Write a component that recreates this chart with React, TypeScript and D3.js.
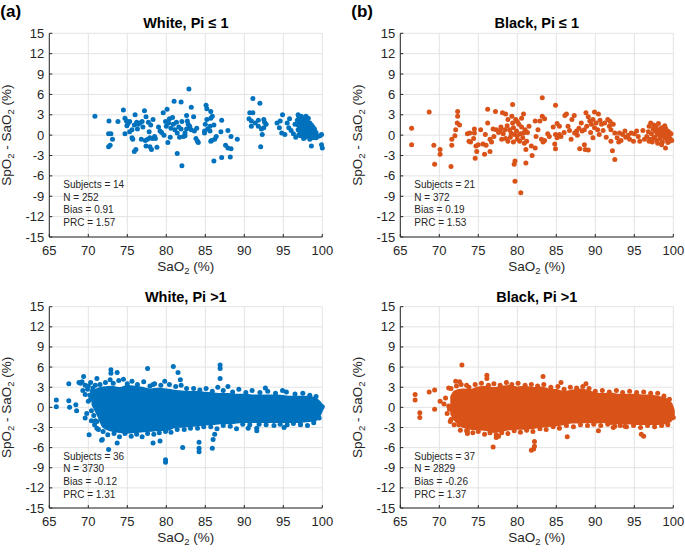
import React from "react";
import * as d3 from "d3";

const xTicks = [65, 70, 75, 80, 85, 90, 95, 100];
const yTicks = [-15, -12, -9, -6, -3, 0, 3, 6, 9, 12, 15];

const BLUE = "#0072BD";
const ORANGE = "#D95319";

const titles = ["White, Pi \u2264 1", "Black, Pi \u2264 1", "White, Pi >1", "Black, Pi >1"];
const subjects = [14, 21, 36, 37];
const counts = [252, 372, 3730, 2829];
const biases = ["0.91", "0.19", "-0.12", "-0.26"];
const prcs = ["1.57", "1.53", "1.31", "1.37"];

const whiteLow: [number, number][] = [
  [70.85, 2.8], [72.65, 2.1], [72.6, 0.2], [72.9, 0.2], [73.1, -0.6], [72.6, -1.7], [72.8, -1.5], [73.8, 2.0], [74.5, 3.7], [74.7, 2.5],
  [74.9, 2.1], [75.1, 1.7], [74.7, 0.2], [74.95, 1.4], [75.3, 2.0], [76.0, 3.0], [76.2, 1.9], [75.9, 1.5], [76.4, 1.6], [76.6, 1.8],
  [75.6, 0.8], [75.6, -0.4], [75.7, -0.6], [76.1, -2.1], [75.9, -2.4], [77.2, 3.6], [77.4, 2.7], [76.9, 2.0], [77.7, 1.9], [78.3, 2.3],
  [77.8, 0.5], [76.8, -0.6], [77.3, -0.8], [77.6, -0.6], [77.9, -0.4], [78.2, -0.5], [78.5, -0.2], [78.6, -0.5], [77.4, -1.6], [77.9, -1.7],
  [78.1, -2.1], [78.8, -1.8], [79.4, 0.4], [79.6, 3.3], [80.1, 3.8], [80.3, 1.8], [80.0, 1.3], [79.7, 0.0], [80.2, -1.1], [80.8, 2.6],
  [81.0, 5.0], [81.9, 4.9], [80.9, 1.6], [81.1, 0.8], [81.4, -2.7], [82.0, -4.5], [81.4, 0.3], [81.7, -0.3], [82.2, -0.2],
  [79.0, 1.2], [79.2, 0.6], [79.9, 2.0], [80.4, 2.4], [80.6, 1.0], [81.3, 1.9], [81.6, 1.2], [82.0, 2.0], [81.9, 0.9], [76.3, 0.9],
  [75.3, 0.5], [77.0, 1.2], [78.0, 1.5], [80.5, -0.3],
  [82.9, 6.8], [83.2, 4.1], [82.6, 2.9], [82.7, 2.1], [82.8, 1.6], [82.6, 0.9], [83.0, 1.3], [82.4, 0.3], [83.2, 0.8], [83.5, 2.7],
  [83.9, 1.0], [83.8, -0.5], [84.0, -0.9], [84.1, -1.1], [83.6, 0.6], [82.4, -0.1], [85.1, 4.4], [85.2, 3.9], [85.7, 3.5], [85.9, 2.8],
  [85.7, 2.5], [85.2, 2.3], [85.0, 1.6], [85.3, 0.9], [85.6, 0.6], [84.9, 0.6], [85.6, 1.3], [86.1, 1.5], [84.9, 0.3], [87.1, 2.2],
  [87.0, 0.5], [86.4, -0.2], [86.2, -0.6], [85.8, -0.8], [85.7, -0.9], [87.9, 0.7], [88.3, -0.2], [89.1, -0.6], [87.6, -1.5], [87.9, -1.9],
  [88.3, -2.0], [88.2, -3.2], [87.1, -3.3], [86.1, -3.8],
  [91.1, 5.4], [92.0, 4.7], [90.7, 3.3], [91.1, 3.3], [90.6, 2.4], [90.9, 2.1], [91.4, 1.8], [91.8, 2.2], [92.5, 2.3], [92.8, 1.6],
  [92.5, 1.1], [92.2, 0.9], [91.8, 1.3], [90.9, 1.3], [92.3, 0.1], [92.1, -1.7], [92.6, 1.9],
  [94.2, 1.8], [94.6, 2.1], [94.9, 3.0], [94.5, 1.1], [94.8, 0.3], [95.2, 0.1], [95.5, 1.8], [95.8, 2.4], [95.7, 1.1], [96.0, 0.7],
  [96.5, 1.6], [96.9, 3.0], [97.3, 2.8],
  [96.8, 2.2], [96.9, 1.5], [96.9, 0.8], [97.0, 2.6], [97.1, 1.9], [97.1, 1.2], [97.2, 0.5], [97.2, -0.1], [97.3, 2.2], [97.4, 1.6],
  [97.4, 0.9], [97.5, 0.2], [97.5, 2.5], [97.6, 1.3], [97.7, 1.9], [97.7, 0.6], [97.8, -0.3], [97.8, 2.3], [97.9, 1.1], [98.0, 1.7],
  [98.0, 0.3], [98.1, 2.0], [98.1, 0.9], [98.2, 1.4], [98.3, -0.2], [98.3, 0.6], [98.4, 1.8], [98.5, 1.1], [98.5, 0.2], [98.6, 1.5],
  [98.7, 0.7], [98.8, 1.2], [98.8, -0.4], [98.9, 0.3], [99.0, 0.9], [99.2, 0.4], [97.0, 0.1], [96.6, -0.3], [96.3, 0.2], [97.6, -0.5],
  [98.2, 2.5], [97.9, 2.8], [98.4, -0.6], [99.4, -0.2],
  [98.6, -1.6], [99.7, -0.1], [99.9, 0.1], [100, -1.9], [99.9, -1.4], [99.0, -0.1], [99.2, -0.4],
];

const blackLow: [number, number][] = [
  [66.45, 1.0], [66.45, -1.4], [68.7, 3.4], [69.3, -1.5], [69.4, -4.3], [70.1, -2.1], [70.1, -2.8], [71.5, -4.6], [71.6, -1.5], [71.6, -0.6],
  [72.0, -0.1], [72.1, 0.8], [72.35, 3.5], [72.35, 2.8], [72.3, 1.8], [72.6, 1.5], [73.6, 0.2], [73.9, 0.3], [73.8, -0.9], [74.0, -1.0],
  [74.5, 0.9], [74.5, 0.3], [74.4, -0.5], [74.7, -1.6], [74.6, -3.4], [74.8, -2.4], [75.0, -1.4], [75.3, 0.8], [75.6, -1.3], [75.8, -2.8],
  [76.2, 3.8], [76.2, 1.8], [76.0, -1.5], [76.5, -0.6], [76.7, -1.0], [76.5, -2.4], [77.2, 3.5], [77.3, 0.8], [77.6, 0.4], [77.8, 0.7],
  [78.0, -0.6], [78.1, 3.3], [78.4, 0.8], [78.5, 3.1], [78.5, -0.5], [78.8, 2.3], [79.0, 0.8], [79.2, 0.3], [79.3, 2.8], [79.4, 4.5],
  [79.4, 1.8], [79.5, 1.1], [79.6, 0.1], [79.7, -3.8], [79.6, -4.3], [79.8, 2.3], [80.0, -0.1], [80.0, -0.6], [80.0, 2.0], [80.3, -0.9],
  [80.2, 1.6], [80.55, 1.2], [80.8, 3.1], [80.55, 2.5], [80.8, 0.3], [81.0, 0.8], [81.1, -2.1], [81.2, -0.9], [81.1, -4.1], [79.7, -6.8],
  [80.45, -8.5], [82.3, 2.1], [82.4, -0.2], [81.8, -1.6], [81.9, -3.0], [82.3, -1.9],
  [77.9, 1.2], [78.2, 0.2], [78.7, 1.4], [79.1, -0.3], [79.9, 0.6], [80.4, 0.2], [80.7, -0.4], [81.3, 0.4], [81.5, 1.3], [79.5, -1.0],
  [80.9, -1.2], [78.8, -0.9], [77.0, -0.2], [76.9, 0.9], [75.9, 0.1],
  [83.2, 5.5], [84.9, 4.4], [82.9, 2.1], [83.2, 2.8], [83.5, 2.4], [82.65, 0.8], [83.1, -0.6], [83.3, -1.0], [83.5, -0.8], [83.9, 0.2],
  [84.1, -0.2], [84.6, 1.2], [85.1, 1.7], [85.4, 1.3], [84.9, 0.1], [85.1, -0.4], [84.8, -1.3], [84.9, -2.0], [85.4, 0.1], [85.6, -0.2],
  [86.1, 2.9], [86.3, 3.1], [86.5, 1.3], [86.7, 0.7], [87.0, 2.3], [87.3, 2.9], [87.35, 0.3], [87.6, 0.6], [87.7, 0.0], [88.0, -2.0],
  [88.6, -1.4], [88.7, -2.1], [89.1, -2.2], [88.3, 0.6], [88.6, 0.8], [88.8, 3.3], [89.1, 2.7], [89.3, 2.1], [89.5, 1.6], [88.9, 1.3],
  [89.9, 3.4], [89.7, 2.3], [90.1, 1.8], [89.9, 1.1], [90.3, 0.8], [90.6, 2.2], [90.8, 1.6], [91.0, 0.7], [91.2, 1.8], [91.6, 2.3],
  [91.8, 1.3], [92.0, 0.8], [92.2, -2.3], [92.5, -3.6], [92.5, 0.3], [92.8, -0.4], [93.1, 0.3], [93.3, -0.8], [93.5, 0.1], [93.8, 0.6],
  [94.2, 0.0], [94.6, 0.3], [94.9, -0.9], [95.3, 0.6], [95.7, -0.9], [96.1, 0.7], [96.3, -0.6],
  [86.0, 0.4], [86.9, -0.6], [87.9, 1.0], [88.2, 1.8], [89.4, 0.4], [89.7, -0.4], [90.5, 0.1], [91.4, -0.3], [90.4, 3.1], [91.9, 2.0],
  [92.3, 1.6], [93.0, -1.0], [93.9, -0.3], [94.4, -0.6], [95.0, 0.2], [95.5, -0.2], [92.0, -0.9],
  [96.6, -0.2], [96.8, 0.5], [96.9, 1.3], [97.0, -0.6], [97.1, 1.8], [97.2, 0.2], [97.3, -1.0], [97.4, 0.9], [97.5, 1.5], [97.6, -0.3],
  [97.7, 0.6], [97.8, 1.2], [97.9, -0.8], [98.0, 0.1], [98.1, 1.7], [98.2, 0.8], [98.3, -0.5], [98.4, 0.4], [98.5, 1.1], [98.6, -1.0],
  [98.7, 0.0], [98.8, 0.7], [98.9, -0.4], [99.0, 1.0], [99.1, 0.3], [99.2, -0.7], [99.3, 0.6], [99.4, -0.1], [99.5, 0.4], [99.6, -0.5],
  [99.7, 0.2], [99.8, -0.8], [99.3, -1.1], [98.9, 1.4], [97.4, -0.5], [97.9, 0.4], [98.4, -0.1], [99.0, -1.9], [98.0, -1.2], [96.9, -0.9],
  [98.5, -1.4], [99.2, -0.2], [99.5, -0.9],
];

// Dense core of the Pi > 1 scatters: outer envelope
const whiteHighEnvX = [70.6, 71.3, 72, 73, 74, 75, 76, 77, 78, 79, 80, 81, 82, 83, 84, 85, 86, 87, 88, 89, 90, 91, 92, 93, 94, 95, 96, 97, 98, 99, 99.6, 100];
const whiteHighEnvHi = [2.2, 2.7, 2.9, 3.0, 2.8, 3.1, 3.0, 2.8, 2.6, 2.7, 2.6, 2.4, 2.3, 2.2, 2.2, 2.1, 2.0, 1.9, 1.9, 1.8, 1.8, 1.7, 1.7, 1.7, 1.7, 1.6, 1.5, 1.5, 1.5, 1.3, 0.8, 0.2];
const whiteHighEnvLo = [0.4, -1.2, -2.9, -3.4, -3.6, -3.7, -3.6, -3.5, -3.4, -3.3, -3.3, -2.9, -2.8, -2.7, -2.6, -2.5, -2.4, -2.3, -2.3, -2.2, -2.1, -2.1, -2.1, -2.1, -2.1, -2.1, -2.1, -2.1, -2.0, -1.9, -1.2, -0.2];

const blackHighEnvX = [71.6, 72, 73, 74, 75, 76, 77, 78, 79, 80, 81, 82, 83, 84, 85, 86, 87, 88, 89, 90, 91, 92, 93, 94, 95, 96, 97, 98, 99, 99.7, 100];
const blackHighEnvHi = [1.6, 2.3, 2.6, 2.5, 2.9, 3.0, 2.8, 3.0, 3.1, 2.9, 3.0, 2.8, 2.9, 2.6, 2.5, 2.2, 2.4, 2.6, 2.4, 2.0, 1.9, 2.0, 1.8, 1.8, 1.8, 1.7, 1.7, 1.5, 1.2, 0.5, -0.5];
const blackHighEnvLo = [-1.0, -1.8, -2.8, -3.1, -3.2, -3.3, -3.6, -3.4, -3.2, -3.1, -3.1, -3.0, -2.8, -2.7, -2.6, -2.4, -2.2, -2.2, -2.1, -2.2, -2.1, -2.4, -2.3, -2.3, -2.4, -2.4, -2.4, -2.4, -2.3, -1.9, -1.2];

const whiteHighPts: [number, number][] = [
  [65.9, 1.1], [65.9, 0.1], [67.5, 3.5], [67.5, 1.0], [67.6, 0.0], [68.4, 0.4], [68.5, -0.5], [68.8, 3.7], [69.4, 4.6], [69.3, 2.5],
  [69.6, -1.6], [70.1, -4.1], [71.1, 4.3], [71.1, -2.1], [71.1, -3.1], [71.8, -4.8], [72.6, -6.3], [72.9, 5.6], [72.9, 5.1], [73.7, 5.2],
  [73.7, -5.3], [77.6, 5.8], [78.3, 3.4], [78.3, -5.3], [79.2, -5.0], [79.9, -7.8], [79.9, -8.2], [80.9, 6.1], [81.5, 5.2], [81.8, 4.1],
  [82.1, -6.0], [84.2, -5.2], [84.2, -6.1], [84.2, -6.6], [85.9, -6.1], [86.0, -4.8], [86.2, -4.0], [86.9, 6.3], [86.9, 5.8], [86.9, 4.3],
  [87.9, 3.1], [90.5, -3.1], [91.6, -3.1], [91.6, -3.5], [92.7, 2.9], [94.9, 2.5], [95.1, -3.0], [97.2, -2.6], [71.7, -4.9],
  [69.9, 2.7], [70.2, 1.8], [70.5, 2.4], [70.0, 0.9], [70.4, -0.5], [69.8, -0.9], [70.7, -1.2], [70.3, 1.2], [69.6, 1.9], [70.9, -2.0],
  [69.2, 3.8], [70.0, 3.2], [70.6, 2.9], [71.0, 1.6],
  [69.0, 3.6], [69.6, 3.3], [70.3, 3.7], [70.9, 3.3], [71.5, 3.4], [72.2, 3.7], [72.8, 4.1], [73.2, 3.6], [73.9, 4.0], [74.5, 4.2],
  [75.0, 3.5], [75.6, 3.9], [76.3, 3.4], [77.1, 3.8], [77.9, 3.2], [78.5, 3.5], [79.3, 3.3], [79.8, 3.9], [80.4, 3.4], [81.2, 3.1],
  [81.9, 3.3], [82.6, 2.8], [83.5, 2.8], [84.3, 2.6], [85.1, 2.8], [85.9, 2.4], [86.6, 3.0], [87.3, 2.5], [88.5, 2.3], [89.3, 2.7],
  [90.2, 2.2], [91.0, 2.5], [92.0, 2.2], [93.0, 2.4], [94.0, 2.1], [95.4, 2.3], [96.5, 2.0], [97.5, 2.1], [98.4, 1.8], [99.2, 1.6],
  [70.4, -2.0], [70.8, -2.6], [71.3, -3.3], [71.9, -3.6], [72.5, -4.1], [73.3, -3.9], [74.0, -4.4], [74.7, -3.9], [75.5, -4.3], [76.2, -4.0],
  [76.9, -4.4], [77.6, -3.9], [78.4, -4.0], [79.1, -3.8], [79.9, -3.6], [80.6, -3.7], [81.4, -3.3], [82.3, -3.3], [83.1, -3.1], [84.0, -3.1],
  [84.8, -2.9], [85.7, -2.9], [86.5, -3.2], [87.3, -2.7], [88.2, -2.8], [89.0, -3.2], [89.8, -2.5], [90.7, -2.6], [91.9, -2.5], [92.8, -2.6],
  [93.8, -2.7], [94.6, -2.5], [95.5, -2.6], [96.3, -2.4], [97.2, -2.5], [98.1, -2.7], [98.9, -2.3], [99.6, -1.6], [100, 0.1],
];

const blackHighPts: [number, number][] = [
  [66.9, 1.9], [66.9, 1.1], [67.5, -0.8], [67.5, -1.5], [68.7, 2.3], [69.4, 2.6], [69.4, -0.3], [70.1, 0.9], [71.2, 2.9], [71.3, -0.3],
  [71.4, -2.1], [72.1, 3.9], [72.6, 3.8], [72.9, 6.3], [72.5, -2.6], [73.5, 3.3], [73.6, -3.5], [73.6, -3.9], [76.1, 4.8], [76.1, 4.3],
  [76.9, -5.9], [77.3, -4.5], [77.6, -4.3], [81.8, -6.4], [82.1, -6.2], [82.2, -5.8], [82.2, -5.1], [83.3, 4.6], [85.6, 3.7], [86.4, -4.4],
  [88.8, 3.5], [90.4, -3.5], [95.9, -4.0], [96.2, -4.3], [92.5, -2.8], [93.8, -2.8], [70.6, 0.5], [71.0, -0.9], [70.8, 1.4], [71.5, -1.8],
  [71.2, 0.2],
  [71.5, 2.8], [72.2, 3.2], [72.8, 3.4], [73.8, 3.0], [74.6, 3.4], [75.4, 3.6], [76.3, 3.3], [77.0, 3.5], [77.8, 3.3], [78.6, 3.7],
  [79.3, 3.4], [80.1, 3.6], [81.0, 3.3], [81.8, 3.4], [82.6, 3.2], [83.4, 3.4], [84.3, 3.0], [85.2, 3.1], [86.0, 2.7], [86.8, 3.0],
  [87.6, 2.9], [88.4, 3.1], [89.2, 2.8], [90.0, 2.4], [90.9, 2.5], [91.8, 2.3], [92.7, 2.5], [93.5, 2.2], [94.4, 2.4], [95.3, 2.2],
  [96.2, 2.3], [97.1, 2.1], [98.0, 2.1], [98.8, 1.7], [99.5, 1.2],
  [71.9, -2.6], [72.7, -3.4], [73.5, -3.5], [74.3, -3.8], [75.0, -3.6], [75.8, -4.0], [76.5, -3.8], [77.3, -4.1], [78.0, -3.8], [78.8, -3.9],
  [79.6, -3.5], [80.4, -3.7], [81.2, -3.4], [82.0, -3.6], [82.9, -3.2], [83.7, -3.3], [84.6, -2.9], [85.4, -3.1], [86.3, -2.7], [87.2, -2.9],
  [88.1, -2.6], [89.0, -2.7], [89.8, -2.5], [90.7, -2.7], [91.6, -2.5], [92.3, -3.0], [93.2, -2.7], [94.0, -2.9], [94.9, -2.7], [95.8, -3.0],
  [96.7, -2.7], [97.6, -2.9], [98.5, -2.7], [99.3, -2.6], [100, -1.5],
];

const FONT = "'Liberation Sans', Arial, Helvetica, sans-serif";
const AX = "#262626";
const GRID = "#e3e3e3";

type Env = { x: number[]; hi: number[]; lo: number[] } | null;

function Panel(props: {
  left: number; right: number; top: number; bottom: number;
  pts: [number, number][]; env: Env; color: string; idx: number; tag?: string;
}) {
  const { left, right, top, bottom, pts, env, color, idx, tag } = props;
  const x = d3.scaleLinear().domain([65, 100]).range([left, right]);
  const y = d3.scaleLinear().domain([-15, 15]).range([bottom, top]);
  let envPath: string | null = null;
  if (env) {
    const rows = env.x.map((v, i) => ({ x: v, hi: env.hi[i], lo: env.lo[i] }));
    envPath = d3.area<{ x: number; hi: number; lo: number }>()
      .x((d) => x(d.x))
      .y0((d) => y(d.lo))
      .y1((d) => y(d.hi))
      .curve(d3.curveMonotoneX)(rows);
  }
  const cx = (left + right) / 2;
  const cy = (top + bottom) / 2;
  const annoY = y(-7.2) + 4;
  const lines = [
    `Subjects = ${subjects[idx]}`,
    `N = ${counts[idx]}`,
    `Bias = ${biases[idx]}`,
    `PRC = ${prcs[idx]}`,
  ];
  return (
    <g fontFamily={FONT}>
      {xTicks.map((t) => (
        <line key={"gx" + t} x1={x(t)} x2={x(t)} y1={top} y2={bottom} stroke={GRID} strokeWidth={1} />
      ))}
      {yTicks.map((t) => (
        <line key={"gy" + t} x1={left} x2={right} y1={y(t)} y2={y(t)} stroke={GRID} strokeWidth={1} />
      ))}
      {envPath && <path d={envPath} fill={color} stroke={color} strokeWidth={3} strokeLinejoin="round" />}
      {pts.map((p, i) => (
        <circle key={i} cx={x(p[0])} cy={y(p[1])} r={2.5} fill={color} />
      ))}
      <line x1={left} x2={left} y1={top} y2={bottom} stroke={AX} strokeWidth={1} />
      <line x1={left} x2={right} y1={bottom} y2={bottom} stroke={AX} strokeWidth={1} />
      {xTicks.map((t) => (
        <g key={"tx" + t}>
          <line x1={x(t)} x2={x(t)} y1={bottom} y2={bottom - 3} stroke={AX} />
          <text x={x(t)} y={bottom + 18} textAnchor="middle" fontSize={13} fill={AX}>{t}</text>
        </g>
      ))}
      {yTicks.map((t) => (
        <g key={"ty" + t}>
          <line x1={left} x2={left + 3} y1={y(t)} y2={y(t)} stroke={AX} />
          <text x={left - 5} y={y(t) + 4.5} textAnchor="end" fontSize={13} fill={AX}>{t}</text>
        </g>
      ))}
      <text x={cx} y={bottom + 34} textAnchor="middle" fontSize={13.5} fill={AX}>
        SaO<tspan fontSize={9.5} dy={3}>2</tspan><tspan dy={-3}> (%)</tspan>
      </text>
      <text transform={`translate(${left - 38},${cy}) rotate(-90)`} textAnchor="middle" fontSize={13.5} fill={AX}>
        SpO<tspan fontSize={9.5} dy={3}>2</tspan><tspan dy={-3}> - SaO</tspan><tspan fontSize={9.5} dy={3}>2</tspan><tspan dy={-3}> (%)</tspan>
      </text>
      <text x={cx} y={top - 5} textAnchor="middle" fontSize={14.5} fontWeight="bold" fill="#000">{titles[idx]}</text>
      {lines.map((s, i) => (
        <text key={s} x={left + 14} y={annoY + i * 12.7} fontSize={10} fill={AX}>{s}</text>
      ))}
      {tag && (
        <text x={left - 49} y={top - 16} fontSize={17} fontWeight="bold" fill="#000">{tag}</text>
      )}
    </g>
  );
}

export default function App() {
  const L1 = 49.3, R1 = 322.3, L2 = 400.3, R2 = 673.3;
  const T1 = 33.3, B1 = 237, T2 = 306.7, B2 = 508;
  return (
    <svg width={685} height={555} style={{ position: "absolute", left: 0, top: 0, background: "#fff" }}>
      <rect width={685} height={555} fill="#fff" />
      <Panel left={L1} right={R1} top={T1} bottom={B1} pts={whiteLow} env={null} color={BLUE} idx={0} tag="(a)" />
      <Panel left={L2} right={R2} top={T1} bottom={B1} pts={blackLow} env={null} color={ORANGE} idx={1} tag="(b)" />
      <Panel left={L1} right={R1} top={T2} bottom={B2} pts={whiteHighPts}
        env={{ x: whiteHighEnvX, hi: whiteHighEnvHi, lo: whiteHighEnvLo }} color={BLUE} idx={2} />
      <Panel left={L2} right={R2} top={T2} bottom={B2} pts={blackHighPts}
        env={{ x: blackHighEnvX, hi: blackHighEnvHi, lo: blackHighEnvLo }} color={ORANGE} idx={3} />
    </svg>
  );
}
